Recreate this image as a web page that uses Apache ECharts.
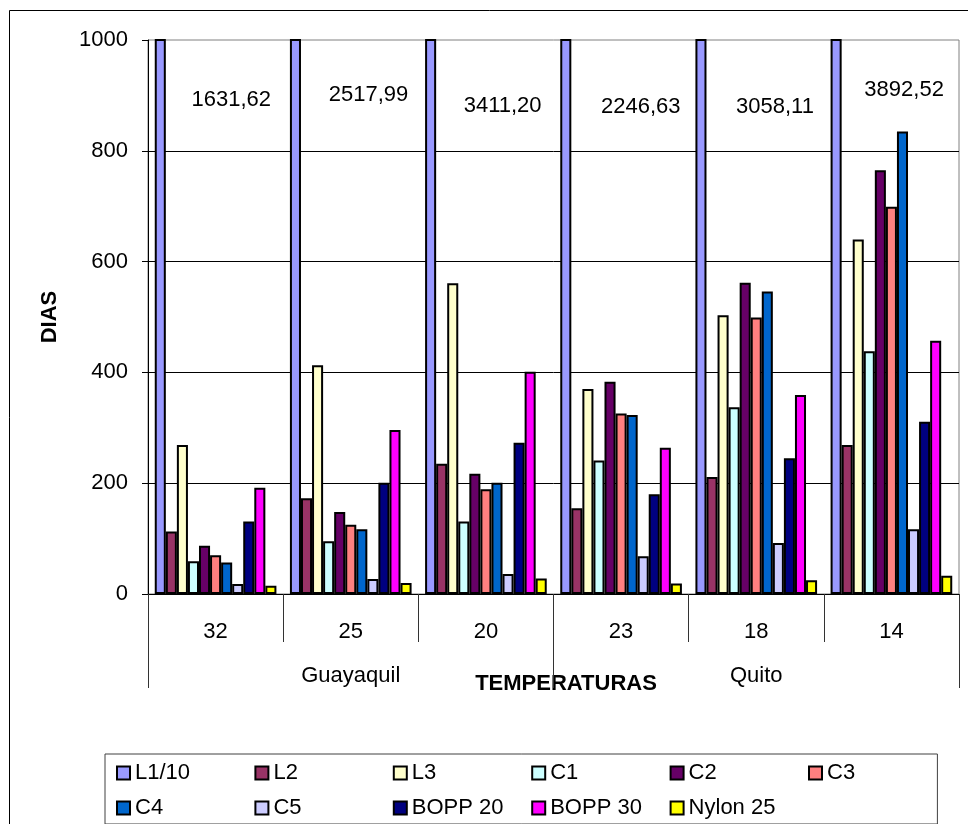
<!DOCTYPE html>
<html>
<head>
<meta charset="utf-8">
<title>DIAS por temperatura</title>
<script src="https://cdn.jsdelivr.net/npm/echarts@6/dist/echarts.min.js"></script>
<style>
  html, body { margin: 0; padding: 0; background: #fff; }
  #chart { width: 968px; height: 824px; }
</style>
</head>
<body>
<div id="chart"></div>
<script>
// Temperatures (°C) on the inner axis, grouped by city on the outer axis
const categories = ['32', '25', '20', '23', '18', '14'];
const cities = ['Guayaquil', 'Quito'];

// Days per film material at each temperature
const L1_10   = [1631.62, 2517.99, 3411.20, 2246.63, 3058.11, 3892.52];
const L2      = [113, 173, 235, 155, 211, 269];
const L3      = [269, 413, 561, 370, 503, 640];
const C1      = [59, 95, 131, 241, 337, 438];
const C2      = [87, 148, 217, 383, 562, 765];
const C3      = [70, 125, 189, 326, 499, 699];
const C4      = [57, 117, 201, 323, 546, 835];
const C5      = [18, 27, 36, 68, 92, 117];
const BOPP20  = [131, 201, 273, 180, 245, 311];
const BOPP30  = [192, 296, 401, 264, 359, 457];
const NYLON25 = [15, 20, 28, 19, 25, 33];

const seriesDefs = [
  { name: 'L1/10',    data: L1_10,   color: '#9999FF' },
  { name: 'L2',       data: L2,      color: '#993366' },
  { name: 'L3',       data: L3,      color: '#FFFFCC' },
  { name: 'C1',       data: C1,      color: '#CCFFFF' },
  { name: 'C2',       data: C2,      color: '#660066' },
  { name: 'C3',       data: C3,      color: '#FF8080' },
  { name: 'C4',       data: C4,      color: '#0066CC' },
  { name: 'C5',       data: C5,      color: '#CCCCFF' },
  { name: 'BOPP 20',  data: BOPP20,  color: '#000080' },
  { name: 'BOPP 30',  data: BOPP30,  color: '#FF00FF' },
  { name: 'Nylon 25', data: NYLON25, color: '#FFFF00' }
];

const FONT = "'Liberation Sans', Arial, sans-serif";
const FS = 22;

// Small per-column nudges for the off-scale value notes [dx, dy]
const noteNudge = [[-1, -1], [1, -6], [0, 5], [3, 6], [2, 6], [-4, -11]];
const noteBase = [72, 46];

const fmtComma = v => v.toFixed(2).replace('.', ',');

const series = seriesDefs.map((s, idx) => {
  const base = {
    name: s.name,
    type: 'bar',
    barGap: '0%',
    barCategoryGap: '10%',
    clip: true,
    itemStyle: { color: s.color, borderColor: '#000', borderWidth: 2 },
    emphasis: { disabled: true },
    data: s.data
  };
  if (idx === 0) {
    base.data = s.data.map((v, i) => ({
      value: v,
      label: {
        show: true,
        position: 'insideTop',
        offset: [noteBase[0] + noteNudge[i][0], noteBase[1] + noteNudge[i][1]],
        formatter: p => fmtComma(p.value),
        color: '#000',
        fontFamily: FONT,
        fontSize: FS
      }
    }));
  }
  return base;
});

const chart = echarts.init(document.getElementById('chart'), null, { renderer: 'canvas' });

chart.setOption({
  animation: false,
  backgroundColor: '#fff',
  textStyle: { fontFamily: FONT },
  graphic: [{
    type: 'rect',
    silent: true,
    z: -10,
    shape: { x: 9.5, y: 10.5, width: 1000, height: 1000 },
    style: { fill: 'none', stroke: '#000', lineWidth: 1 }
  }],
  grid: {
    left: 148, right: 9, top: 40, bottom: 230,
    show: true,
    borderColor: '#808080',
    borderWidth: 1,
    backgroundColor: 'transparent'
  },
  legend: {
    left: 105,
    top: 754,
    width: 830,
    padding: [6, 0, 3, 11],
    borderColor: '#404040',
    borderWidth: 1,
    itemWidth: 13,
    itemHeight: 13,
    itemGap: 9,
    icon: 'rect',
    selectedMode: false,
    textStyle: {
      fontFamily: FONT,
      fontSize: FS,
      color: '#000',
      width: 110.4,
      lineHeight: 26
    },
    data: seriesDefs.map(s => s.name)
  },
  xAxis: [
    {
      type: 'category',
      data: categories,
      position: 'bottom',
      axisLine: { show: true, lineStyle: { color: '#000', width: 1 } },
      axisTick: { show: true, interval: 0, length: 48, lineStyle: { color: '#333' } },
      axisLabel: { interval: 0, margin: 27, fontFamily: FONT, fontSize: FS, color: '#000' },
      splitLine: { show: false },
      name: 'TEMPERATURAS',
      nameLocation: 'middle',
      nameGap: 79,
      nameTextStyle: {
        fontFamily: FONT, fontSize: FS, fontWeight: 'bold', color: '#000',
        padding: [0, 0, 0, 25]
      }
    },
    {
      type: 'category',
      data: cities,
      position: 'bottom',
      axisLine: { show: false },
      axisTick: { show: true, interval: 0, length: 94, lineStyle: { color: '#333' } },
      axisLabel: { interval: 0, margin: 71, fontFamily: FONT, fontSize: FS, color: '#000' },
      splitLine: { show: false }
    }
  ],
  yAxis: {
    type: 'value',
    min: 0,
    max: 1000,
    interval: 200,
    axisLine: { show: true, lineStyle: { color: '#000', width: 1 } },
    axisTick: { show: true, inside: false, length: 6, lineStyle: { color: '#000' } },
    axisLabel: {
      margin: 20, fontFamily: FONT, fontSize: FS, color: '#000',
      formatter: v => String(v)
    },
    splitLine: { show: true, showMaxLine: false, lineStyle: { color: '#000', width: 1 } },
    name: 'DIAS',
    nameLocation: 'middle',
    nameGap: 87,
    nameTextStyle: { fontFamily: FONT, fontSize: FS, fontWeight: 'bold', color: '#000' }
  },
  series: series
});
</script>
</body>
</html>
